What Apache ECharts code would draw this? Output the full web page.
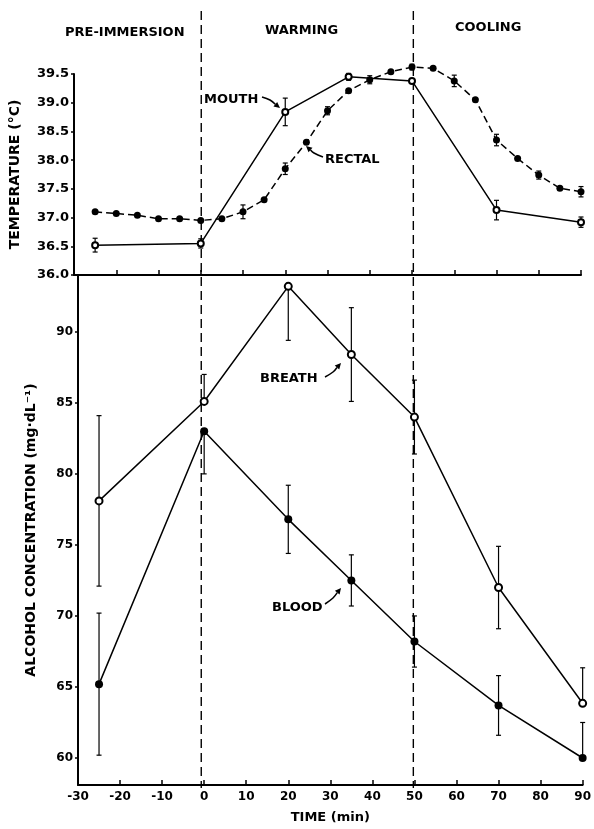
<!DOCTYPE html>
<html>
<head>
<meta charset="utf-8">
<script src="https://cdn.jsdelivr.net/npm/echarts@6/dist/echarts.min.js"></script>
<style>
html,body{margin:0;padding:0;background:#fff;}
#c{width:594px;height:829px;}
</style>
</head>
<body>
<div id="c"></div>
<script>
// ---------- DATA ----------
const mouthTime = [-25, 0, 20, 35, 50, 70, 90];
const mouthTemp = [36.52, 36.55, 38.84, 39.45, 39.38, 37.13, 36.92];
const mouthErr  = [0.12, 0.08, 0.24, 0.06, 0.04, 0.17, 0.09];

const rectalTime = [-25,-20,-15,-10,-5,0,5,10,15,20,25,30,35,40,45,50,55,60,65,70,75,80,85,90];
const rectalTemp = [37.10,37.07,37.04,36.98,36.98,36.95,36.98,37.10,37.31,37.85,38.31,38.86,39.21,39.40,39.54,39.62,39.60,39.38,39.05,38.35,38.03,37.74,37.51,37.45];
const rectalErr  = [0,0,0,0,0,0,0,0.12,0,0.1,0,0.07,0,0.07,0,0.05,0,0.1,0,0.1,0,0.07,0,0.09];

const alcTime = [-25, 0, 20, 35, 50, 70, 90];
const breath        = [78.1, 85.1, 93.2, 88.4, 84.0, 72.0, 63.85];
const breathErrUp   = [6.0, 1.9, 0, 3.3, 2.6, 2.9, 2.5];
const breathErrDown = [6.0, 0, 3.8, 3.3, 2.6, 2.9, 0];
const blood         = [65.2, 83.0, 76.8, 72.5, 68.2, 63.7, 60.0];
const bloodErrUp    = [5.0, 0, 2.4, 1.8, 1.8, 2.1, 2.5];
const bloodErrDown  = [5.0, 3.0, 2.4, 1.8, 1.8, 2.1, 0];

const alcTicks = [60, 65, 70, 75, 80, 85, 90];
const phaseBounds = [0, 50];
const phaseNames = ['PRE-IMMERSION', 'WARMING', 'COOLING'];

// ---------- HELPERS ----------
const FONT = '"DejaVu Sans", "Liberation Sans", sans-serif';
const pair = (xs, ys) => xs.map((x, i) => [x, ys[i]]);
const errData = (xs, ys, up, dn) => xs.map((x, i) => [x, ys[i], up[i], dn[i]]);

function errRender(params, api) {
  const x = api.value(0), y = api.value(1), up = api.value(2), dn = api.value(3);
  const c = api.coord([x, y]);
  const kids = [];
  const st = { stroke: '#000', lineWidth: 1.2 };
  const cap = 2.5;
  if (up > 0) {
    const t = api.coord([x, y + up]);
    kids.push({ type: 'line', shape: { x1: c[0], y1: c[1], x2: t[0], y2: t[1] }, style: st });
    kids.push({ type: 'line', shape: { x1: t[0] - cap, y1: t[1], x2: t[0] + cap, y2: t[1] }, style: st });
  }
  if (dn > 0) {
    const b = api.coord([x, y - dn]);
    kids.push({ type: 'line', shape: { x1: c[0], y1: c[1], x2: b[0], y2: b[1] }, style: st });
    kids.push({ type: 'line', shape: { x1: b[0] - cap, y1: b[1], x2: b[0] + cap, y2: b[1] }, style: st });
  }
  return { type: 'group', children: kids };
}

function arrow(x1, y1, xm, ym, x2, y2) {
  const ang = Math.atan2(y2 - ym, x2 - xm);
  const L = 6, W = 3;
  const bx = x2 - L * Math.cos(ang), by = y2 - L * Math.sin(ang);
  const px = -Math.sin(ang) * W, py = Math.cos(ang) * W;
  return [
    { type: 'polyline', shape: { points: [[x1, y1], [xm, ym], [bx, by]], smooth: 0.4 }, style: { stroke: '#000', lineWidth: 1.5, fill: null } },
    { type: 'polygon', shape: { points: [[x2, y2], [bx + px, by + py], [bx - px, by - py]] }, style: { fill: '#000' } }
  ];
}

const txt = (x, y, s) => ({
  type: 'text', x: x, y: y,
  style: { text: s, font: 'bold 13px ' + FONT, fill: '#000', textVerticalAlign: 'middle' }
});

const chart = echarts.init(document.getElementById('c'), null, { renderer: 'canvas' });

const xLine = { show: true, onZero: false, lineStyle: { color: '#000', width: 2 } };
const yLine = { show: true, onZero: false, lineStyle: { color: '#000', width: 2 } };

chart.setOption({
  animation: false,
  backgroundColor: '#fff',
  grid: [
    { left: 71, right: 13, top: 74, height: 201 },
    { left: 78, right: 9, top: 275, bottom: 41 },
    { left: 74, right: 11, top: 11, bottom: 41 }
  ],
  xAxis: [
    { gridIndex: 0, type: 'value', min: -30, max: 90, interval: 10,
      axisLine: xLine, axisTick: { show: true, inside: true, length: 5, lineStyle: { color: '#000', width: 1.5 } },
      axisLabel: { show: false }, splitLine: { show: false } },
    { gridIndex: 1, type: 'value', min: -30, max: 90, interval: 10,
      axisLine: xLine, axisTick: { show: true, inside: true, length: 5, lineStyle: { color: '#000', width: 1.5 } },
      axisLabel: { show: true, color: '#000', fontFamily: FONT, fontWeight: 'bold', fontSize: 12, margin: 6 },
      splitLine: { show: false },
      name: 'TIME (min)', nameLocation: 'middle', nameGap: 26,
      nameTextStyle: { color: '#000', fontFamily: FONT, fontWeight: 'bold', fontSize: 13 } },
    { gridIndex: 2, type: 'value', min: -30, max: 90, show: false }
  ],
  yAxis: [
    { gridIndex: 0, type: 'value', min: 36, max: 39.5, interval: 0.5,
      axisLine: yLine, axisTick: { show: true, inside: false, length: 3, lineStyle: { color: '#000', width: 1.5 } },
      axisLabel: { color: '#000', fontFamily: FONT, fontWeight: 'bold', fontSize: 13, margin: 5,
        formatter: v => v.toFixed(1) },
      splitLine: { show: false },
      name: 'TEMPERATURE (°C)', nameLocation: 'middle', nameGap: 52, nameRotate: 90,
      nameTextStyle: { color: '#000', fontFamily: FONT, fontWeight: 'bold', fontSize: 14 } },
    { gridIndex: 1, type: 'value', min: 58.1, max: 94,
      axisLine: yLine,
      axisTick: { show: true, inside: false, length: 3, customValues: alcTicks, lineStyle: { color: '#000', width: 1.5 } },
      axisLabel: { color: '#000', fontFamily: FONT, fontWeight: 'bold', fontSize: 12, margin: 5, customValues: alcTicks },
      splitLine: { show: false },
      name: 'ALCOHOL CONCENTRATION (mg·dL⁻¹)', nameLocation: 'middle', nameGap: 40, nameRotate: 90,
      nameTextStyle: { color: '#000', fontFamily: FONT, fontWeight: 'bold', fontSize: 14 } },
    { gridIndex: 2, type: 'value', min: 0, max: 1, show: false }
  ],
  series: [
    { type: 'custom', xAxisIndex: 2, yAxisIndex: 2, z: 1, silent: true, clip: false,
      data: phaseBounds.map(v => [v]),
      renderItem: (params, api) => {
        const x = api.coord([api.value(0), 0])[0];
        const yTop = api.coord([0, 1])[1], yBot = api.coord([0, 0])[1];
        return { type: 'line', shape: { x1: x, y1: yTop, x2: x, y2: yBot },
          style: { stroke: '#000', lineWidth: 1.4, lineDash: [9, 5] } };
      } },
    { type: 'custom', xAxisIndex: 0, yAxisIndex: 0, z: 2, clip: false, renderItem: errRender,
      data: errData(mouthTime, mouthTemp, mouthErr, mouthErr) },
    { type: 'custom', xAxisIndex: 0, yAxisIndex: 0, z: 2, clip: false, renderItem: errRender,
      data: errData(rectalTime, rectalTemp, rectalErr, rectalErr) },
    { type: 'custom', xAxisIndex: 1, yAxisIndex: 1, z: 2, clip: false, renderItem: errRender,
      data: errData(alcTime, breath, breathErrUp, breathErrDown) },
    { type: 'custom', xAxisIndex: 1, yAxisIndex: 1, z: 2, clip: false, renderItem: errRender,
      data: errData(alcTime, blood, bloodErrUp, bloodErrDown) },
    { name: 'Mouth', type: 'line', xAxisIndex: 0, yAxisIndex: 0, z: 3, clip: false,
      data: pair(mouthTime, mouthTemp), symbol: 'emptyCircle', symbolSize: 6,
      lineStyle: { color: '#000', width: 1.5 }, itemStyle: { color: '#000', borderWidth: 1.5 } },
    { name: 'Rectal', type: 'line', xAxisIndex: 0, yAxisIndex: 0, z: 4, clip: false,
      data: pair(rectalTime, rectalTemp), symbol: 'circle', symbolSize: 7,
      lineStyle: { color: '#000', width: 1.5, type: [7, 4] }, itemStyle: { color: '#000' } },
    { name: 'Breath', type: 'line', xAxisIndex: 1, yAxisIndex: 1, z: 3, clip: false,
      data: pair(alcTime, breath), symbol: 'emptyCircle', symbolSize: 7,
      lineStyle: { color: '#000', width: 1.5 }, itemStyle: { color: '#000', borderWidth: 1.5 } },
    { name: 'Blood', type: 'line', xAxisIndex: 1, yAxisIndex: 1, z: 3, clip: false,
      data: pair(alcTime, blood), symbol: 'circle', symbolSize: 8,
      lineStyle: { color: '#000', width: 1.5 }, itemStyle: { color: '#000' } }
  ],
  graphic: [
    txt(65, 33, phaseNames[0]),
    txt(265, 31, phaseNames[1]),
    txt(455, 28, phaseNames[2]),
    txt(204, 100, 'MOUTH'),
    txt(325, 160, 'RECTAL'),
    txt(260, 379, 'BREATH'),
    txt(272, 608, 'BLOOD')
  ].concat(
    arrow(262, 97, 270, 100, 280, 108),
    arrow(323, 157, 314, 153, 306, 146),
    arrow(325, 377, 333, 372, 341, 363),
    arrow(325, 604, 333, 598, 341, 588)
  )
});
</script>
</body>
</html>
